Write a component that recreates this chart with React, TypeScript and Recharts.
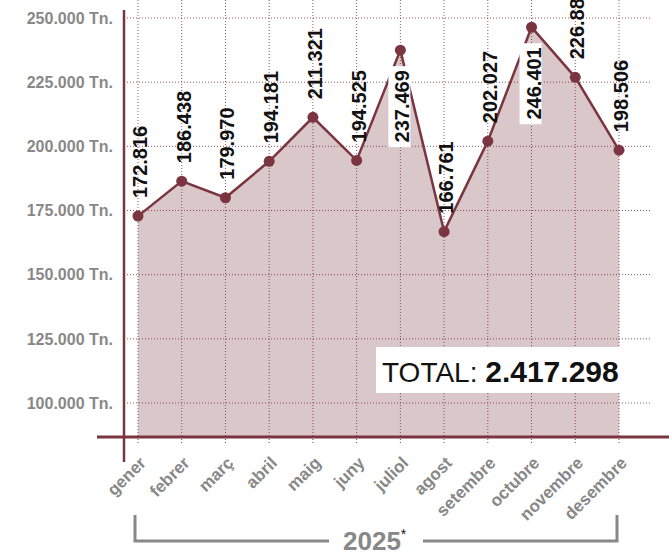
import { Area, CartesianGrid, ComposedChart, LabelList, XAxis, YAxis } from "recharts";

const months = ["gener", "febrer", "març", "abril", "maig", "juny", "juliol", "agost", "setembre", "octubre", "novembre", "desembre"];
const tonnes = [172816, 186438, 179970, 194181, 211321, 194525, 237469, 166761, 202027, 246401, 226883, 198506];
const yTicks = [100000, 125000, 150000, 175000, 200000, 225000, 250000];
const yearLabel = "2025";
// months whose value label sits under the point, on a white box
const labelsBelow = ["juliol", "octubre"];

const MAROON = "#7b3541";
const GREY = "#888888";
const FONT = '"Liberation Sans", Arial, Helvetica, sans-serif';
const W = 669;
const H = 554;

const fmt = (v: number) => String(Math.round(v)).replace(/\B(?=(\d{3})+(?!\d))/g, ".");

const data = months.map((m, i) => ({ month: m, value: tonnes[i] }));
const total = tonnes.reduce((a, b) => a + b, 0);

const MonthTick = ({ x, y, payload }: any) => {
    const ax = x + 9;
    const ay = y + 19;
    return (
        <text x={ax} y={ay} transform={`rotate(-45 ${ax} ${ay})`} textAnchor="end"
            fill={GREY} fontSize={17} fontWeight="bold" fontFamily={FONT}>
            {payload.value}
        </text>
    );
};

const ValueLabel = (props: any) => {
    const { x, y, value, index } = props;
    const text = fmt(value);
    const bx = x + 9;
    if (labelsBelow.includes(months[index])) {
        const top = y + 20;
        const len = 72;
        return (
            <g>
                <rect x={bx - 21} y={top - 4} width={22} height={len + 9} fill="#fff" />
                <text x={bx} y={top} transform={`rotate(-90 ${bx} ${top})`} textAnchor="end"
                    fill="#111" fontSize={20} fontWeight="bold" fontFamily={FONT}>{text}</text>
            </g>
        );
    }
    const bottom = y - 18;
    return (
        <text x={bx} y={bottom} transform={`rotate(-90 ${bx} ${bottom})`} textAnchor="start"
            fill="#111" fontSize={20} fontWeight="bold" fontFamily={FONT}>{text}</text>
    );
};

const App = () => {
    return (
        <div style={{ position: "absolute", left: 0, top: 0, width: W, height: H }}>
            <ComposedChart width={W} height={H} data={data} margin={{ top: 0, right: 19, bottom: 0, left: 0 }}>
                <CartesianGrid stroke={MAROON} strokeDasharray="1 2" strokeOpacity={0.85} syncWithTicks />
                <XAxis dataKey="month" height={117} padding={{ left: 14, right: 31 }} axisLine={false}
                    tickLine={{ stroke: MAROON, strokeDasharray: "1 2" }} tickSize={6} tickMargin={2}
                    interval={0} tick={<MonthTick />} />
                <YAxis type="number" width={124} domain={[86753, 257013]} ticks={yTicks} axisLine={false}
                    tickLine={false} tickSize={0} tickMargin={11} tickFormatter={(v: number) => `${fmt(v)} Tn.`}
                    tick={{ fill: GREY, fontSize: 16, fontWeight: "bold", fontFamily: FONT }} />
                <Area type="linear" dataKey="value" stroke={MAROON} strokeWidth={2.5} fill={MAROON}
                    fillOpacity={0.28}
                    dot={{ r: 5.5, fill: MAROON, fillOpacity: 1, stroke: MAROON, strokeWidth: 0 }}
                    activeDot={false} isAnimationActive={false}>
                    <LabelList dataKey="value" content={ValueLabel} />
                </Area>
            </ComposedChart>
            <svg width={W} height={H} style={{ position: "absolute", left: 0, top: 0, pointerEvents: "none" }}>
                <line x1={124} y1={10} x2={124} y2={462} stroke={MAROON} strokeWidth={2.5} />
                <line x1={97} y1={437} x2={W} y2={437} stroke={MAROON} strokeWidth={3} />
                <rect x={376} y={347} width={244} height={46} fill="#fff" />
                <text x={382} y={382} fontFamily={FONT} fontSize={28} fill="#111">
                    TOTAL: <tspan fontWeight="bold" fontSize={30}>{fmt(total)}</tspan>
                </text>
                <polyline points="135,515 135,541 329,541" fill="none" stroke={GREY} strokeWidth={3} />
                <polyline points="423,541 617,541 617,515" fill="none" stroke={GREY} strokeWidth={3} />
                <text x={343} y={550} fontFamily={FONT} fontSize={26} fontWeight="bold" fill={GREY}>
                    {yearLabel}
                    <tspan fill="#111" fontSize={14} fontWeight="normal" dy={-11}>*</tspan>
                </text>
            </svg>
        </div>
    );
};

export default App;
